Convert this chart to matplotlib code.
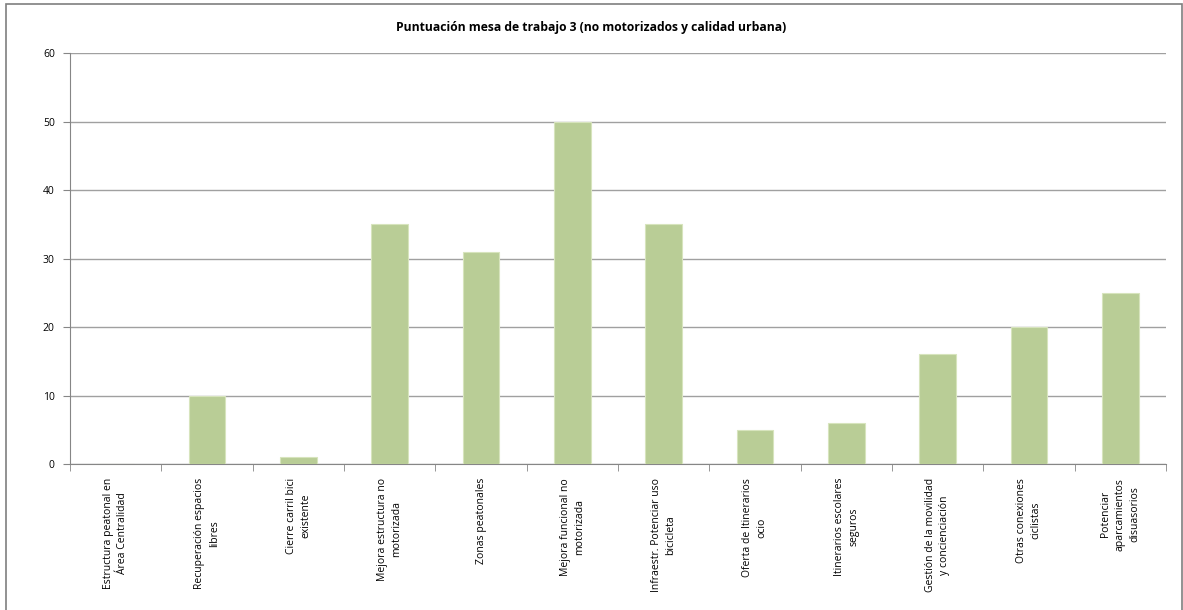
import matplotlib.pyplot as plt
import numpy as np
from matplotlib.patches import Rectangle

# Chart data
categories = [
    'Estructura peatonal en\nÁrea Centralidad',
    'Recuperación espacios\nlibres',
    'Cierre carril bici\nexistente',
    'Mejora estructura no\nmotorizada',
    'Zonas peatonales',
    'Mejora funcional no\nmotorizada',
    'Infraestr. Potenciar uso\nbicicleta',
    'Oferta de Itinerarios\nocio',
    'Itinerarios escolares\nseguros',
    'Gestión de la movilidad\ny concienciación',
    'Otras conexiones\nciclistas',
    'Potenciar\naparcamientos\ndisuasorios',
]
scores = [0, 10, 1, 35, 31, 50, 35, 5, 6, 16, 20, 25]
y_ticks = [0, 10, 20, 30, 40, 50, 60]

plt.rcParams['font.family'] = ['Open Sans', 'DejaVu Sans']

fig = plt.figure(figsize=(11.83, 6.10), dpi=100)
ax = fig.add_axes([0.0592, 0.2393, 0.9264, 0.6738])

# Outer chart border (bottom edge runs off the image)
fig.patches.append(Rectangle((0.005, -0.02), 0.994, 1.0134, transform=fig.transFigure,
                             fill=False, edgecolor='#7F7F7F', linewidth=1.2))

x = np.arange(len(categories))
ax.bar(x, scores, width=0.4, color='#B9CD96', edgecolor='#D7E4BD', linewidth=0.8, zorder=3)

ax.set_xlim(-0.5, len(categories) - 0.5)
ax.set_ylim(0, 60)
ax.set_yticks(y_ticks)
ax.set_yticklabels([str(v) for v in y_ticks], fontsize=7.5)
ax.yaxis.grid(True, color='#A0A0A0', linewidth=1.0, zorder=0)

# Category labels centred, tick marks at boundaries
ax.set_xticks(x)
ax.set_xticklabels(categories, rotation=90, fontsize=7.5, va='top', ha='center',
                   multialignment='center', linespacing=1.45)
ax.tick_params(axis='x', length=0, pad=10)
ax.set_xticks(np.arange(len(categories) + 1) - 0.5, minor=True)
ax.tick_params(axis='x', which='minor', length=5, color='#868686')
ax.tick_params(axis='y', length=5, color='#868686', pad=6)

for side in ['top', 'right']:
    ax.spines[side].set_visible(False)
ax.spines['left'].set_color('#868686')
ax.spines['bottom'].set_color('#868686')

fig.text(0.5, 0.955, 'Puntuación mesa de trabajo 3 (no motorizados y calidad urbana)',
         ha='center', va='center', fontsize=8.7, fontweight='bold')

plt.savefig('out.png', dpi=100)
